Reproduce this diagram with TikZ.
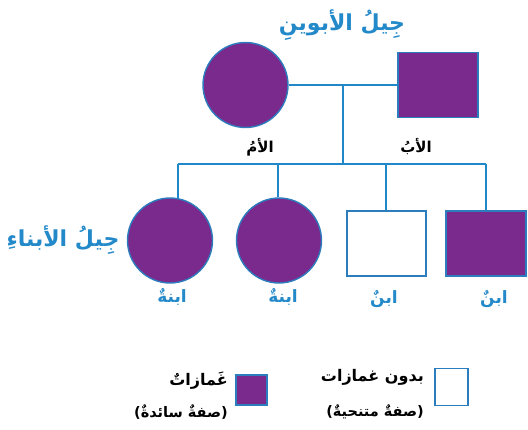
\documentclass[tikz,border=0pt]{standalone}
\usepackage{fontspec}
\newfontfamily\arabicfont[Script=Arabic]{DejaVu Sans}
\TeXXeTstate=1
\definecolor{traitpurple}{HTML}{7A2A8C}
\definecolor{edgeblue}{HTML}{2C7DBE}
\definecolor{lineblue}{HTML}{2088C8}
\definecolor{labelblue}{HTML}{2389C9}
\newcommand{\ar}[1]{\arabicfont\bfseries\beginR #1\endR}
\begin{document}
\begin{tikzpicture}[x=1pt,y=-1pt,
  femaff/.style={circle,draw=edgeblue,line width=1.4pt,fill=traitpurple,minimum size=85pt,inner sep=0pt},
  maleaff/.style={rectangle,draw=edgeblue,line width=1.4pt,fill=traitpurple,minimum width=80pt,minimum height=65pt,inner sep=0pt},
  maleun/.style={rectangle,draw=edgeblue,line width=1.5pt,fill=white,minimum width=79pt,minimum height=65pt,inner sep=0pt},
  conn/.style={draw=lineblue,line width=1.5pt},
  gentext/.style={text=labelblue,font=\fontsize{22}{24}\selectfont},
  kidtext/.style={text=labelblue,font=\fontsize{17}{19}\selectfont},
  partext/.style={text=black,font=\fontsize{15}{17}\selectfont},
  legtext/.style={text=black,font=\fontsize{16}{18}\selectfont,anchor=east,inner sep=0pt},
  legsub/.style={text=black,font=\fontsize{14.5}{16}\selectfont,anchor=east,inner sep=0pt}]
\useasboundingbox (0,0) rectangle (528,429);
\begin{scope}
\clip (0,0) rectangle (528,429);
% parents
\node[femaff] (mother) at (245.5,85) {};
\node[maleaff] (father) at (438,85) {};
\coordinate (mm) at (343,85);
\coordinate (sib) at (343,164);
\coordinate (d1) at (178,164);
\coordinate (d2) at (278,164);
\coordinate (d3) at (386,164);
\coordinate (d4) at (486,164);
% children
\node[femaff] (c1) at (170,240.5) {};
\node[femaff] (c2) at (279,240.5) {};
\node[maleun] (c3) at (386.5,243.5) {};
\node[maleaff] (c4) at (486,243.5) {};
% connectors
\draw[conn] (mother.east) -- (father.west);
\draw[conn] (mm) -- (sib);
\draw[conn] (d1) -- (d4);
\draw[conn] (d1) -- ([yshift=-1pt]d1 |- c1.north);
\draw[conn] (d2) -- (d2 |- c2.north);
\draw[conn] (d3) -- (d3 |- c3.north);
\draw[conn] (d4) -- (c4.north);
\end{scope}
% labels
\node[gentext] (tpar) at (342,25) {\ar{جِيلُ الأبوينِ}};
\node[gentext] (tkid) at (63,240) {\ar{جِيلُ الأبناءِ}};
\node[partext] (lm) at (260,147) {\ar{الأمُ}};
\node[partext] (lf) at (416,147) {\ar{الأبُ}};
\node[kidtext] (l1) at (172,297) {\ar{ابنةٌ}};
\node[kidtext] (l2) at (283,297) {\ar{ابنةٌ}};
\node[kidtext] (l3) at (384,299) {\ar{ابنٌ}};
\node[kidtext] (l4) at (494,299) {\ar{ابنٌ}};
% legend
\node[rectangle,draw=edgeblue,line width=1.4pt,fill=traitpurple,minimum width=31pt,minimum height=30pt,inner sep=0pt] (kaff) at (251.5,390) {};
\node[legtext] (kafft) at (228,381) {\ar{غَمازاتٌ}};
\node[legsub] (kaffs) at (228,412) {\ar{(صفةٌ سائدةٌ)}};
\node[rectangle,draw=edgeblue,line width=1.4pt,fill=white,minimum width=33pt,minimum height=37pt,inner sep=0pt] (kun) at (451.5,387) {};
\node[legtext] (kunt) at (424,377) {\ar{بدون غمازات}};
\node[legsub] (kuns) at (424,412) {\ar{(صفةٌ متنحيةٌ)}};
\end{tikzpicture}
\end{document}
